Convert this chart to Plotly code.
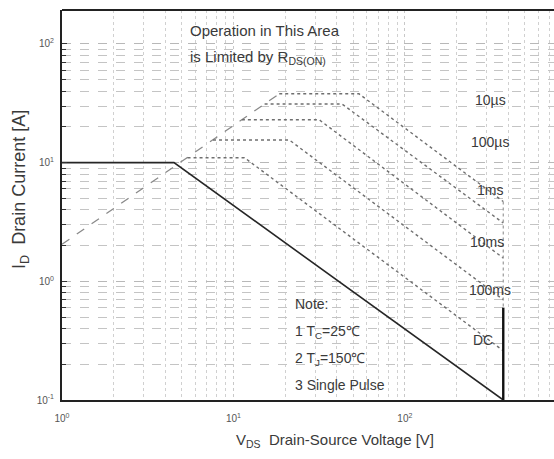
import plotly.graph_objects as go

# Safe operating area data (V in volts, I in amperes)
rds_v = [1.0, 18.5]
rds_i = [2.05, 38.0]

pulse_labels = ["10\u00b5s", "100\u00b5s", "1ms", "10ms", "100ms"]
pulse_start_v = [18.5, 15.2, 11.2, 7.6, 5.4]
pulse_flat_i = [38.0, 31.2, 23.0, 15.5, 11.0]
pulse_knee_v = [54.0, 43.0, 31.6, 21.2, 11.6]
pulse_end_i = [4.7, 3.1, 1.57, 0.70, 0.26]
v_max = 375.0

dc_v = [1.0, 4.5, 375.0]
dc_i = [10.0, 10.0, 0.1]
bv_i = [0.1, 0.6]

x_ticks = [1, 10, 100]
x_tick_text = ["10<sup>0</sup>", "10<sup>1</sup>", "10<sup>2</sup>"]
y_ticks = [0.1, 1, 10, 100]
y_tick_text = ["10<sup>-1</sup>", "10<sup>0</sup>", "10<sup>1</sup>", "10<sup>2</sup>"]

label_y = [100, 142, 190, 242, 290, 340]
label_x = [490, 490, 490, 487, 490, 483]
label_text = pulse_labels + ["DC"]

FONT = "Liberation Sans, Arial, sans-serif"
TXT = "#3a3a3a"

fig = go.Figure()

# R_DS(on) limit
fig.add_trace(go.Scatter(x=rds_v, y=rds_i, mode="lines",
                         line=dict(color="#8a8a8a", width=1.3, dash="dash"),
                         showlegend=False))

# single-pulse boundaries
for sv, fi, kv, ei in zip(pulse_start_v, pulse_flat_i, pulse_knee_v, pulse_end_i):
    fig.add_trace(go.Scatter(x=[sv, kv, v_max], y=[fi, fi, ei], mode="lines",
                             line=dict(color="#6f6f6f", width=1.4, dash="dot"),
                             showlegend=False))

# faint breakdown drop of the pulse curves
fig.add_trace(go.Scatter(x=[v_max, v_max], y=[pulse_end_i[0], bv_i[1]], mode="lines",
                         line=dict(color="#9a9a9a", width=1.2, dash="dot"),
                         showlegend=False))

# DC boundary
fig.add_trace(go.Scatter(x=dc_v, y=dc_i, mode="lines",
                         line=dict(color="#262626", width=1.6),
                         showlegend=False))

# breakdown voltage limit
fig.add_trace(go.Scatter(x=[v_max, v_max], y=bv_i, mode="lines",
                         line=dict(color="#111111", width=2.4),
                         showlegend=False))

annotations = []
for lx, ly, lt in zip(label_x, label_y, label_text):
    annotations.append(dict(xref="paper", yref="paper", x=(lx - 62) / 492, y=(400 - ly) / 390,
                            text=lt, showarrow=False, xanchor="center", yanchor="middle",
                            font=dict(family=FONT, size=14, color=TXT)))

def px_note(x, y, text, size=15, anchor="left"):
    return dict(xref="paper", yref="paper", x=(x - 62) / 492, y=(400 - y) / 390,
                text=text, showarrow=False, xanchor=anchor, yanchor="middle",
                font=dict(family=FONT, size=size, color=TXT))

annotations += [
    px_note(188, 30, "Operation in This Area"),
    px_note(188, 57, "is Limited by R<sub>DS(ON)</sub>"),
    px_note(293, 304, "Note:", 14),
    px_note(293, 332, "1 T<sub>C</sub>=25\u2103", 14),
    px_note(293, 359, "2 T<sub>J</sub>=150\u2103", 14),
    px_note(293, 385, "3 Single Pulse", 14),
]

# axis titles
annotations.append(dict(xref="paper", yref="paper", x=(335 - 62) / 492, y=(400 - 440) / 390,
                        text="V<sub>DS</sub>  Drain-Source Voltage [V]", showarrow=False,
                        xanchor="center", yanchor="middle",
                        font=dict(family=FONT, size=15, color=TXT)))
annotations.append(dict(xref="paper", yref="paper", x=(20 - 62) / 492, y=(400 - 190) / 390,
                        text="I<sub>D</sub>  Drain Current [A]", showarrow=False, textangle=-90,
                        xanchor="center", yanchor="middle",
                        font=dict(family=FONT, size=18, color=TXT)))

fig.update_layout(
    width=554, height=459,
    margin=dict(l=62, r=0, t=10, b=59),
    paper_bgcolor="white", plot_bgcolor="white",
    annotations=annotations,
    shapes=[dict(type="line", xref="paper", yref="paper", x0=0, x1=1, y0=1, y1=1,
                 line=dict(color="#222", width=2))],
)

fig.update_xaxes(
    type="log", range=[0, 2.87],
    tickmode="array", tickvals=x_ticks, ticktext=x_tick_text,
    tickfont=dict(family=FONT, size=10, color="#555"), ticklabelstandoff=8,
    showgrid=True, gridcolor="#c8c8c8", griddash="dot", gridwidth=1,
    minor=dict(dtick="D1", showgrid=True, gridcolor="#d0d0d0", griddash="dot", gridwidth=1),
    showline=True, linecolor="#222", linewidth=2, ticks="", zeroline=False,
)
fig.update_yaxes(
    type="log", range=[-1, 2.286],
    tickmode="array", tickvals=y_ticks, ticktext=y_tick_text,
    tickfont=dict(family=FONT, size=10, color="#555"), ticklabelstandoff=4,
    showgrid=True, gridcolor="#b8b8b8", griddash="dash", gridwidth=1,
    minor=dict(dtick="D1", showgrid=True, gridcolor="#c4c4c4", griddash="dash", gridwidth=1,
               ticks="inside", ticklen=4, tickcolor="#333"),
    showline=True, linecolor="#222", linewidth=2, ticks="inside", ticklen=5, tickcolor="#333",
    zeroline=False,
)

fig.write_html("out.html")
